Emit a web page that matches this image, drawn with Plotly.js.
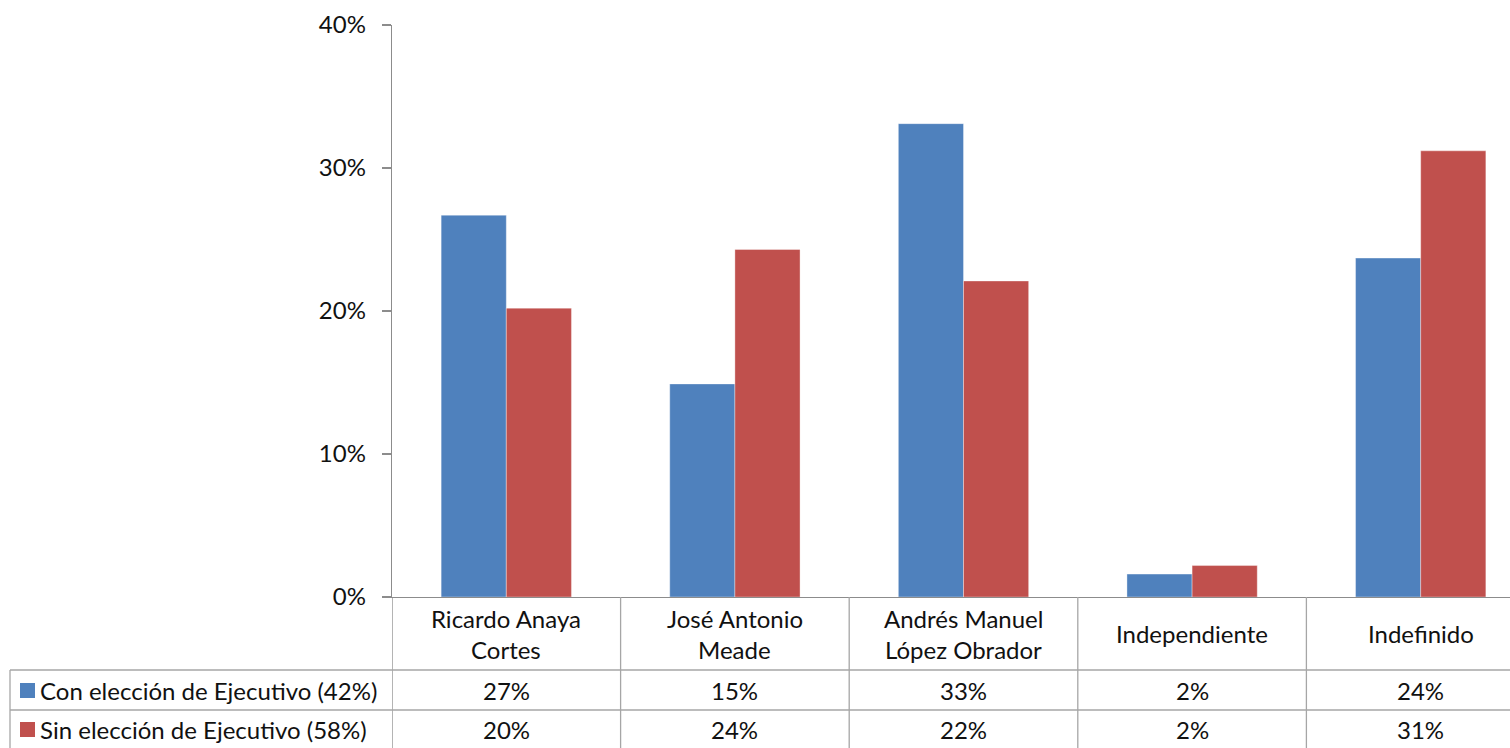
<!DOCTYPE html>
<html>
<head>
<meta charset="utf-8">
<script src="https://cdn.plot.ly/plotly-3.0.1.min.js"></script>
<style>
html,body{margin:0;padding:0;background:#fff;overflow:hidden;}
#chart{width:1510px;height:748px;}
</style>
</head>
<body>
<div id="chart"></div>
<script>
// ---- data ----
const categoriesLine1 = ["Ricardo Anaya", "José Antonio", "Andrés Manuel", "Independiente", "Indefinido"];
const categoriesLine2 = ["Cortes", "Meade", "López Obrador", "", ""];
const seriesNames = ["Con elección de Ejecutivo (42%)", "Sin elección de Ejecutivo (58%)"];
const conEleccion = [0.267, 0.149, 0.331, 0.016, 0.237];
const sinEleccion = [0.202, 0.243, 0.221, 0.022, 0.312];
const yTickVals = [0, 0.1, 0.2, 0.3, 0.4];
const colors = ["#4F81BD", "#C0504D"];

// ---- layout constants (pixels) ----
const W = 1510, H = 748;
const mL = 392, mR = 0, mT = 25, mB = 151;
const plotW = W - mL - mR, plotH = H - mT - mB;
const px = v => (v - mL) / plotW;           // page x -> paper x
const py = v => (H - mB - v) / plotH;       // page y -> paper y
const idx = categoriesLine1.map((_, i) => i);

const font = "Lato, 'Open Sans', sans-serif";
const fsize = 24;
const lineCol = "#8c8c8c";
const tableCol = "#a6a6a6";

const traces = [conEleccion, sinEleccion].map((vals, s) => ({
  type: "bar",
  x: idx,
  y: vals,
  name: seriesNames[s],
  marker: {color: colors[s], line: {color: "rgba(255,255,255,0.6)", width: 0.6}},
  hoverinfo: "y"
}));

const shapes = [];
const annotations = [];
// vertical table lines at category boundaries
for (let k = -1; k < categoriesLine1.length; k++) {
  shapes.push({type: "line", xref: "x", yref: "paper", x0: k + 0.5, x1: k + 0.5,
    y0: 0, y1: py(H), line: {color: k === -1 ? lineCol : tableCol, width: 1.3}});
}
// table left edge
shapes.push({type: "line", xref: "paper", yref: "paper", x0: px(10), x1: px(10),
  y0: py(670), y1: py(H), line: {color: tableCol, width: 1.3}});
// horizontal table lines
[670, 710].forEach(yy => shapes.push({type: "line", xref: "paper", yref: "paper",
  x0: px(10), x1: 1, y0: py(yy), y1: py(yy), line: {color: tableCol, width: 1.3}}));

// category labels
idx.forEach(i => {
  if (categoriesLine2[i]) {
    annotations.push({xref: "x", yref: "paper", x: i, y: py(618), text: categoriesLine1[i], showarrow: false, xanchor: "center", yanchor: "middle"});
    annotations.push({xref: "x", yref: "paper", x: i, y: py(649), text: categoriesLine2[i], showarrow: false, xanchor: "center", yanchor: "middle"});
  } else {
    annotations.push({xref: "x", yref: "paper", x: i, y: py(633), text: categoriesLine1[i], showarrow: false, xanchor: "center", yanchor: "middle"});
  }
});

// table rows
const rowY = [690, 729];
[conEleccion, sinEleccion].forEach((vals, s) => {
  shapes.push({type: "rect", xref: "paper", yref: "paper", x0: px(20), x1: px(35),
    y0: py(rowY[s] + 8), y1: py(rowY[s] - 7), fillcolor: colors[s], line: {width: 0}});
  annotations.push({xref: "paper", yref: "paper", x: px(38), y: py(rowY[s]), text: seriesNames[s],
    showarrow: false, xanchor: "left", yanchor: "middle"});
  vals.forEach((v, i) => annotations.push({xref: "x", yref: "paper", x: i, y: py(rowY[s]),
    text: Math.round(v * 100) + "%", showarrow: false, xanchor: "center", yanchor: "middle"}));
});

const layout = {
  width: W, height: H,
  margin: {l: mL, r: mR, t: mT, b: mB, pad: 0},
  paper_bgcolor: "#fff", plot_bgcolor: "#fff",
  font: {family: font, size: fsize, color: "#111"},
  showlegend: false,
  barmode: "group", bargap: 0.43, bargroupgap: 0,
  xaxis: {range: [-0.5, -0.5 + plotW / 228.6], showticklabels: false, ticks: "",
    showline: true, linecolor: lineCol, linewidth: 1.3, showgrid: false, zeroline: false, fixedrange: true},
  yaxis: {range: [0, 0.4], tickvals: yTickVals, tickformat: ".0%", ticks: "outside", ticklen: 9,
    tickcolor: lineCol, tickwidth: 1.3, showline: true, linecolor: lineCol, linewidth: 1.3,
    showgrid: false, zeroline: false, ticklabelstandoff: 11, tickfont: {size: fsize, family: font}, fixedrange: true},
  shapes: shapes,
  annotations: annotations
};

Plotly.newPlot("chart", traces, layout, {displayModeBar: false, staticPlot: true});
</script>
</body>
</html>
